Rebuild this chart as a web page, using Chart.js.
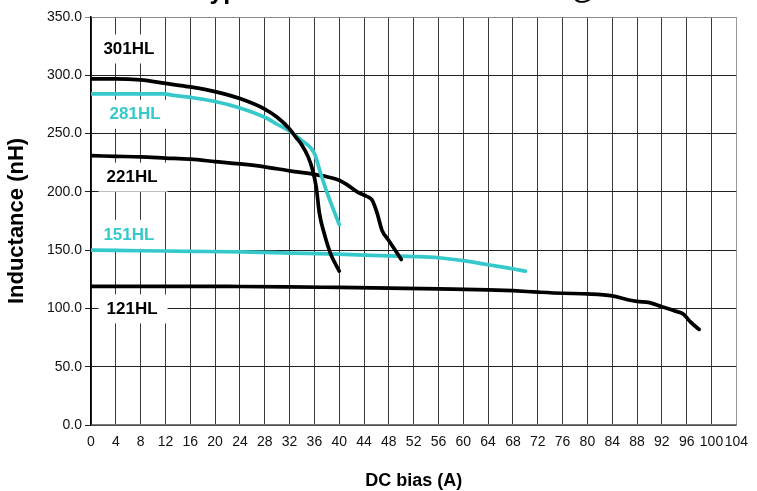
<!DOCTYPE html>
<html>
<head>
<meta charset="utf-8">
<script src="https://cdn.jsdelivr.net/npm/chart.js@4"></script>
<style>
  html, body { margin: 0; padding: 0; background: #fff; }
  #wrap { width: 757px; height: 491px; }
</style>
</head>
<body>
<div id="wrap"><canvas id="c" width="757" height="491"></canvas></div>
<script>
// ---- Data (DC bias in A, inductance in nH) ----
const hl301X = [0, 4, 8, 12, 16, 20, 24, 28, 30, 32, 33, 34, 35, 35.7, 36.3, 36.8, 37.6, 38.6, 40];
const hl301Y = [297, 297, 296, 293, 290, 286, 280, 271, 264, 254, 247, 240, 230, 219, 204, 182, 164, 147, 132];

const hl281X = [0, 4, 8, 12, 13, 16, 20, 24, 28, 30, 32, 34, 36, 37, 38, 40];
const hl281Y = [284, 284, 284, 284, 283, 281, 277.5, 272, 264, 258, 252, 244, 233, 216, 200, 172];

const hl221X = [0, 4, 8, 12, 16, 20, 24, 28, 32, 36, 38, 40, 41.3, 42.9, 44.5, 45.3, 46.1, 46.9, 47.9, 50];
const hl221Y = [231, 230.5, 230, 229, 228, 226, 224, 221.5, 218, 215, 213, 210, 206, 200, 196, 193, 182, 167, 159, 142];

const hl151X = [0, 8, 16, 24, 32, 40, 48, 52, 56, 60, 64, 68, 70];
const hl151Y = [150, 149.5, 149, 148.5, 147.5, 146.5, 145, 144.5, 143.5, 141, 137.5, 134, 132];

const hl121X = [0, 8, 16, 24, 32, 40, 48, 56, 64, 68, 72, 76, 80, 84, 86.5, 88, 90, 92, 94, 95.5, 96.6, 98];
const hl121Y = [119, 119, 119, 118.8, 118.5, 118, 117.5, 116.8, 116, 115.2, 114, 113, 112.5, 110.8, 107.5, 106, 105, 101.5, 98, 95, 88.5, 82];

const seriesNames = ['301HL', '281HL', '221HL', '151HL', '121HL'];
const xTickMax = 104;
const xTickStep = 4;
const yTickMax = 350;
const yTickStep = 50;

const chartTitle = 'Typical Inductance vs. DC Bias @ 25°C';
const xTitle = 'DC bias (A)';
const yTitle = 'Inductance (nH)';

// ---- Styles ----
const BLACK = '#000000';
const CYAN = '#35C9CB';
const FONT = "'Liberation Sans', Arial, sans-serif";

function pts(xs, ys) { return xs.map((x, i) => ({ x: x, y: ys[i] })); }

const seriesData = [pts(hl301X, hl301Y), pts(hl281X, hl281Y), pts(hl221X, hl221Y), pts(hl151X, hl151Y), pts(hl121X, hl121Y)];
const seriesColors = [BLACK, CYAN, BLACK, CYAN, BLACK];

// label placement (data coords of left edge / vertical center)
const labelSpots = [
  { x: 2.0, y: 323 },
  { x: 3.0, y: 267 },
  { x: 2.5, y: 213 },
  { x: 2.0, y: 164 },
  { x: 2.5, y: 100 }
];

const seriesLabels = {
  id: 'seriesLabels',
  beforeDatasetsDraw(chart) {
    const { ctx, scales } = chart;
    ctx.save();
    ctx.font = 'bold 17px ' + FONT;
    ctx.textBaseline = 'middle';
    ctx.textAlign = 'left';
    seriesNames.forEach((name, i) => {
      const px = scales.x.getPixelForValue(labelSpots[i].x);
      const py = scales.y.getPixelForValue(labelSpots[i].y);
      const w = ctx.measureText(name).width;
      ctx.fillStyle = '#fff';
      ctx.fillRect(Math.max(px - 8, chart.chartArea.left + 1), py - 14, w + 18, 29);
      ctx.fillStyle = seriesColors[i];
      ctx.fillText(name, px, py + 1);
    });
    ctx.restore();
  }
};

const topTitle = {
  id: 'topTitle',
  afterDraw(chart) {
    const { ctx } = chart;
    ctx.save();
    ctx.font = 'bold 25px ' + FONT;
    ctx.fillStyle = '#000';
    ctx.textAlign = 'left';
    ctx.textBaseline = 'alphabetic';
    ctx.fillText(chartTitle, 196, -1);
    ctx.restore();
  }
};

new Chart(document.getElementById('c'), {
  type: 'line',
  data: {
    datasets: seriesNames.map((n, i) => ({
      label: n,
      data: seriesData[i],
      borderColor: seriesColors[i],
      backgroundColor: seriesColors[i],
      borderWidth: 3.7,
      borderCapStyle: 'round',
      borderJoinStyle: 'round',
      pointRadius: 0,
      cubicInterpolationMode: 'monotone',
      fill: false
    }))
  },
  options: {
    responsive: false,
    animation: false,
    devicePixelRatio: 1,
    layout: { padding: { top: 17, right: 14, left: 0, bottom: 0 } },
    plugins: {
      legend: { display: false },
      tooltip: { enabled: false },
      title: { display: false }
    },
    scales: {
      x: {
        type: 'linear',
        min: 0,
        max: xTickMax,
        afterFit(s) { s.height = 66; },
        ticks: {
          stepSize: xTickStep,
          autoSkip: false,
          maxRotation: 0,
          padding: 9,
          color: '#111',
          font: { family: FONT, size: 14 }
        },
        grid: {
          drawTicks: false,
          lineWidth: 1,
          color: (c) => (c.tick && c.tick.value === xTickMax) ? '#9a9a9a' : '#3a3a3a'
        },
        border: { color: '#777', width: 1.5 },
        title: {
          display: true,
          text: xTitle,
          color: '#000',
          font: { family: FONT, size: 18, weight: 'bold' },
          padding: { top: 0, bottom: -1 }
        }
      },
      y: {
        min: 0,
        max: yTickMax,
        afterFit(s) { s.width = 91; },
        ticks: {
          stepSize: yTickStep,
          padding: 3,
          color: '#111',
          font: { family: FONT, size: 14 },
          callback: (v) => Number(v).toFixed(1)
        },
        grid: {
          tickLength: 6,
          lineWidth: 1,
          color: (c) => (c.tick && c.tick.value === yTickMax) ? '#8a8a8a' : '#222'
        },
        border: { color: '#000', width: 1.5 },
        title: {
          display: true,
          text: yTitle,
          color: '#000',
          font: { family: FONT, size: 22, weight: 'bold' },
          padding: { top: 4, bottom: 0 }
        }
      }
    }
  },
  plugins: [seriesLabels, topTitle]
});
</script>
</body>
</html>
